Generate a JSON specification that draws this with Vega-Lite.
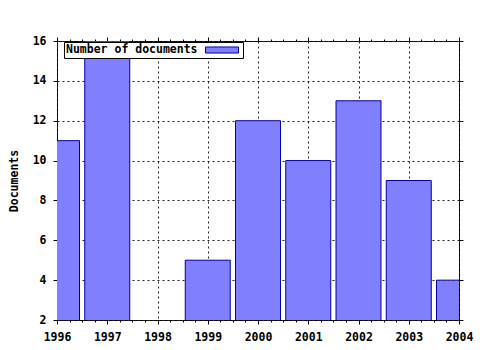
{
  "$schema": "https://vega.github.io/schema/vega-lite/v6.json",
  "width": 402,
  "height": 279,
  "autosize": {"type": "none"},
  "padding": {"left": 57, "top": 41, "right": 21, "bottom": 30},
  "background": "white",
  "data": {
    "values": [
      {"year": 1996, "docs": 11, "series": "Number of documents"},
      {"year": 1997, "docs": 16, "series": "Number of documents"},
      {"year": 1998, "docs": 0, "series": "Number of documents"},
      {"year": 1999, "docs": 5, "series": "Number of documents"},
      {"year": 2000, "docs": 12, "series": "Number of documents"},
      {"year": 2001, "docs": 10, "series": "Number of documents"},
      {"year": 2002, "docs": 13, "series": "Number of documents"},
      {"year": 2003, "docs": 9, "series": "Number of documents"},
      {"year": 2004, "docs": 4, "series": "Number of documents"}
    ]
  },
  "config": {
    "font": "DejaVu Sans Mono",
    "view": {"stroke": "black", "strokeWidth": 1},
    "scale": {"continuousPadding": 0},
    "axis": {
      "labelFont": "DejaVu Sans Mono",
      "labelFontWeight": "bold",
      "labelFontSize": 11.5,
      "labelColor": "black",
      "titleFont": "DejaVu Sans Mono",
      "titleFontWeight": "bold",
      "titleFontSize": 11.5,
      "titleColor": "black",
      "domain": false,
      "tickColor": "black",
      "tickWidth": 1,
      "tickSize": 4,
      "gridColor": "#222222",
      "gridDash": [2, 3],
      "gridOpacity": 1,
      "gridWidth": 1,
      "labelFlush": false,
      "labelOverlap": false
    }
  },
  "layer": [
    {
      "mark": {"type": "bar", "width": 45, "stroke": "#0000a0", "strokeWidth": 1, "clip": true, "zindex": 2},
      "encoding": {
        "x": {
          "field": "year", "type": "quantitative",
          "scale": {"domain": [1996, 2004], "nice": false, "zero": false, "padding": 0},
          "axis": {"orient": "bottom", "values": [1996, 1997, 1998, 1999, 2000, 2001, 2002, 2003, 2004], "format": "d", "grid": true, "title": null, "labelPadding": 7}
        },
        "y": {
          "field": "docs", "type": "quantitative",
          "scale": {"domain": [2, 16], "nice": false, "zero": false},
          "axis": {"values": [2, 4, 6, 8, 10, 12, 14, 16], "grid": true, "title": "Documents", "titleX": -38, "labelPadding": 7}
        },
        "y2": {"datum": 0},
        "color": {
          "field": "series", "type": "nominal",
          "scale": {"range": ["#8080ff"]},
          "legend": {
            "orient": "none", "legendX": 7, "legendY": 1, "zindex": 0,
            "title": "Number of documents", "titleOrient": "left",
            "titleFont": "DejaVu Sans Mono", "titleFontWeight": "bold", "titleFontSize": 11.5, "titleColor": "black",
            "titlePadding": 18, "labelExpr": "''", "labelOffset": 0,
            "symbolType": "M-3,-0.55H3V0.55H-3Z", "symbolSize": 121,
            "symbolStrokeColor": "#0000a0", "symbolStrokeWidth": 1,
            "strokeColor": "black", "fillColor": "white", "padding": 2
          }
        }
      }
    },
    {
      "mark": {"type": "point", "opacity": 0},
      "encoding": {
        "x": {"field": "year", "type": "quantitative", "scale": {"domain": [1996, 2004], "nice": false, "zero": false},
          "axis": {"orient": "top", "values": [1996, 1997, 1998, 1999, 2000, 2001, 2002, 2003, 2004], "labels": false, "grid": false, "title": null}},
        "y": {"field": "docs", "type": "quantitative", "scale": {"domain": [2, 16], "nice": false, "zero": false},
          "axis": {"orient": "right", "values": [2, 4, 6, 8, 10, 12, 14, 16], "labels": false, "grid": false, "title": null}}
      }
    },
    {
      "mark": {"type": "point", "opacity": 0},
      "encoding": {
        "x": {"field": "year", "type": "quantitative", "scale": {"domain": [1996, 2004], "nice": false, "zero": false},
          "axis": {"orient": "top", "values": [1996.25, 1996.5, 1996.75, 1997.25, 1997.5, 1997.75, 1998.25, 1998.5, 1998.75, 1999.25, 1999.5, 1999.75, 2000.25, 2000.5, 2000.75, 2001.25, 2001.5, 2001.75, 2002.25, 2002.5, 2002.75, 2003.25, 2003.5, 2003.75], "labels": false, "grid": false, "title": null, "tickSize": 2}}
      }
    },
    {
      "mark": {"type": "point", "opacity": 0},
      "encoding": {
        "x": {"field": "year", "type": "quantitative", "scale": {"domain": [1996, 2004], "nice": false, "zero": false},
          "axis": {"orient": "bottom", "values": [1996.25, 1996.5, 1996.75, 1997.25, 1997.5, 1997.75, 1998.25, 1998.5, 1998.75, 1999.25, 1999.5, 1999.75, 2000.25, 2000.5, 2000.75, 2001.25, 2001.5, 2001.75, 2002.25, 2002.5, 2002.75, 2003.25, 2003.5, 2003.75], "labels": false, "grid": false, "title": null, "tickSize": 2}}
      }
    }
  ],
  "resolve": {"axis": {"x": "independent", "y": "independent"}}
}
